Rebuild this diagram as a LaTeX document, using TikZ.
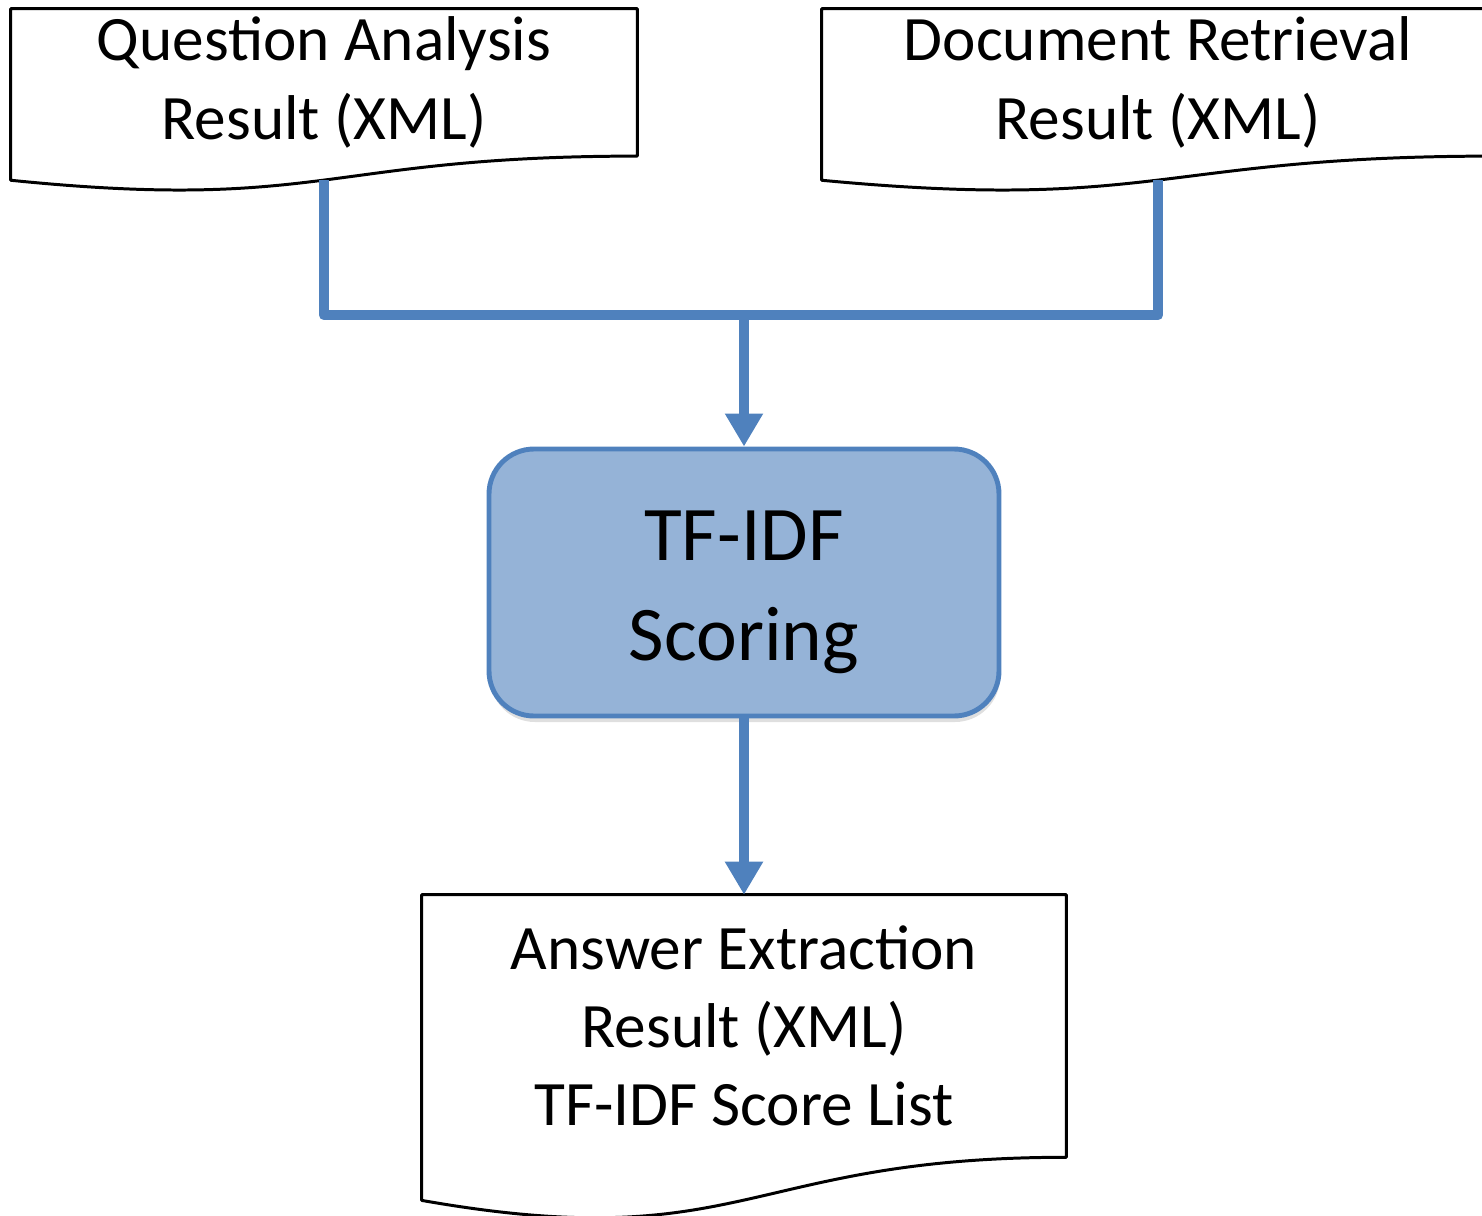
\documentclass[tikz,border=0pt]{standalone}
\usepackage{fontspec}
\setmainfont{Carlito}
\usepackage{tikz}
\usetikzlibrary{calc,positioning,arrows.meta,shadows}

\definecolor{flowblue}{RGB}{79,129,189}
\definecolor{scorefill}{RGB}{149,179,215}

% document outline: #1 node name, #2 shape height
\newcommand{\docoutline}[2]{%
  \draw[docline] (#1.north west) -- (#1.north east) -- (#1.south east)
    .. controls (#1.south) and ($(#1.south)+(0,-0.3056*#2)$) ..
    ($(#1.south west)+(0,-0.132*#2)$) -- cycle;}

\begin{document}
\begin{tikzpicture}[
    every node/.append style={font=\fontsize{36}{44.5}\selectfont},
    doctext/.style={align=center, inner sep=0pt},
    docline/.style={draw=black, line width=1.7pt, line join=round},
    flow/.style={draw=flowblue, line width=6pt, line join=round},
    flowarrow/.style={flow, -{Triangle[width=0.72cm, length=0.66cm]}},
    process/.style={draw=flowblue, fill=scorefill, line width=2.8pt,
        rounded corners=0.9cm, minimum width=10.2cm, minimum height=5.34cm,
        drop shadow={opacity=0.25, shadow xshift=0.02cm, shadow yshift=-0.12cm}},
    scoretext/.style={align=center, inner sep=0pt, font=\fontsize{44}{57}\selectfont}]
    \useasboundingbox (0,0) rectangle (29.64,-24.3);
    \node(QA)[doctext, minimum width=12.52cm, minimum height=2.935cm] at (6.48,-1.6475)
      {Question Analysis\\Result (XML)};
    \node(DR)[doctext, minimum width=13.44cm, minimum height=2.935cm] at (23.16,-1.6475)
      {Document Retrieval\\Result (XML)};
    \node(Score)[process] at (14.88,-11.65) {};
    \node(ScoreLabel)[scoretext] at ([yshift=-0.2cm]Score.center) {TF-IDF\\Scoring};
    \node(AE)[doctext, minimum width=12.88cm, minimum height=5.237cm] at (14.88,-20.52)
      {Answer Extraction\\Result (XML)\\TF-IDF Score List};
    \docoutline{QA}{3.66}
    \docoutline{DR}{3.66}
    \docoutline{AE}{6.53}
    \coordinate (QAbottom) at ($(QA.south)+(0,-0.483)$);
    \coordinate (DRbottom) at ($(DR.south)+(0,-0.483)$);
    \coordinate (Join) at (14.88,-6.3);
    \draw[flow] (QAbottom) |- (Join) -| (DRbottom);
    \draw[flowarrow] (Join) -- (Score.north);
    \draw[flowarrow] (Score.south) -- (AE.north);
\end{tikzpicture}
\end{document}
